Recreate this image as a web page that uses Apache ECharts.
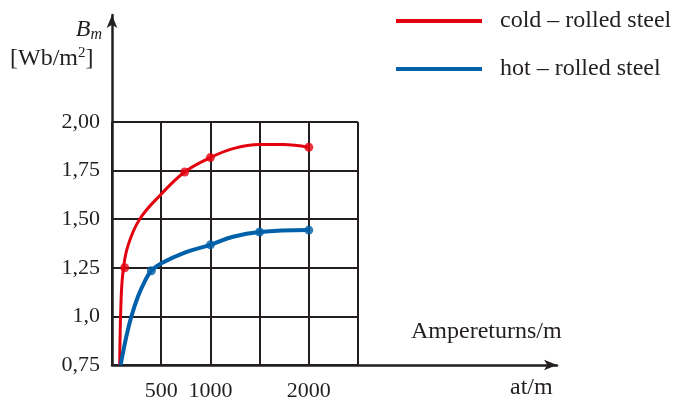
<!DOCTYPE html>
<html>
<head>
<meta charset="utf-8">
<script src="https://cdn.jsdelivr.net/npm/echarts@6/dist/echarts.min.js"></script>
<style>
html,body{margin:0;padding:0;background:#fff;}
#c{width:676px;height:405px;}
</style>
</head>
<body>
<div id="c"></div>
<script>
// ---- data ----
const seriesNames = ['cold – rolled steel', 'hot – rolled steel'];
// curve traced points (at/m, Wb/m2)
const coldCurveX = [78, 90, 110, 160, 281, 502, 739, 1000, 1230, 1501, 1738, 2000];
const coldCurveY = [0.75, 1.05, 1.22, 1.36, 1.5, 1.63, 1.743, 1.817, 1.863, 1.884, 1.884, 1.87];
const hotCurveX = [88, 146, 197, 264, 332, 400, 502, 739, 1000, 1230, 1500, 2000];
const hotCurveY = [0.75, 0.897, 1.0, 1.102, 1.179, 1.235, 1.273, 1.328, 1.368, 1.41, 1.434, 1.444];
// measured points (dots)
const coldDotX = [129, 739, 1000, 2000];
const coldDotY = [1.25, 1.743, 1.817, 1.87];
const hotDotX = [400, 1000, 1500, 2000];
const hotDotY = [1.235, 1.368, 1.434, 1.444];
// ticks
const yTickValues = [0.75, 1.0, 1.25, 1.5, 1.75, 2.0];
const yTickLabels = ['0,75', '1,0', '1,25', '1,50', '1,75', '2,00'];
const xTickValues = [500, 1000, 2000];
const xTickLabels = ['500', '1000', '2000'];

const RED = '#e3000f';
const BLUE = '#0060aa';
const INK = '#231f20';
const FONT = '"Liberation Serif", "DejaVu Serif", serif';

const zip = (xs, ys) => xs.map((x, i) => [x, ys[i]]);

const chart = echarts.init(document.getElementById('c'), null, {renderer: 'canvas'});

chart.setOption({
  animation: false,
  textStyle: {fontFamily: FONT},
  legend: {
    orient: 'vertical',
    left: 396,
    top: 7,
    padding: 0,
    itemWidth: 86,
    itemHeight: 4,
    itemGap: 20,
    icon: 'rect',
    textStyle: {fontFamily: FONT, fontSize: 24, color: INK, padding: [0, 0, 0, 13], lineHeight: 28},
    data: seriesNames
  },
  grid: [
    {left: 112, right: 318, top: 122, bottom: 40},
    {left: 112, right: 119, top: 15, bottom: 40}
  ],
  xAxis: [
    {
      gridIndex: 0, type: 'value', min: 0, max: 2500, interval: 500,
      axisLine: {show: false},
      axisTick: {show: false},
      splitLine: {show: true, lineStyle: {color: INK, width: 2}},
      axisLabel: {
        margin: 15, fontSize: 22, color: INK, fontFamily: FONT,
        formatter: v => { const i = xTickValues.indexOf(v); return i >= 0 ? xTickLabels[i] : ''; }
      }
    },
    {
      gridIndex: 1, type: 'value', min: 0, max: 1,
      axisLine: {show: true, symbol: ['none', 'arrow'], symbolSize: [8, 13], lineStyle: {color: INK, width: 2.5}},
      axisTick: {show: false}, axisLabel: {show: false}, splitLine: {show: false}
    }
  ],
  yAxis: [
    {
      gridIndex: 0, type: 'value', min: 0.75, max: 2.0, interval: 0.25,
      axisLine: {show: false},
      axisTick: {show: false},
      splitLine: {show: true, lineStyle: {color: INK, width: 2}},
      axisLabel: {
        margin: 12, fontSize: 22, color: INK, fontFamily: FONT,
        formatter: v => { const i = yTickValues.findIndex(t => Math.abs(t - v) < 1e-6); return i >= 0 ? yTickLabels[i] : ''; }
      }
    },
    {
      gridIndex: 1, type: 'value', min: 0, max: 1,
      axisLine: {show: true, symbol: ['none', 'arrow'], symbolSize: [8, 13], lineStyle: {color: INK, width: 2.5}},
      axisTick: {show: false}, axisLabel: {show: false}, splitLine: {show: false}
    }
  ],
  graphic: [
    {type: 'text', right: 676 - 102, top: 18, style: {
      text: '{b|B}{s|m}', rich: {
        b: {fontFamily: FONT, fontSize: 24, fontStyle: 'italic', fill: INK},
        s: {fontFamily: FONT, fontSize: 16, fontStyle: 'italic', fill: INK, padding: [10, 0, 0, 0]}
      }}},
    {type: 'text', left: 10, top: 46, style: {
      text: '{t|[Wb/m}{p|2}{t|]}', rich: {
        t: {fontFamily: FONT, fontSize: 24, fill: INK},
        p: {fontFamily: FONT, fontSize: 15, fill: INK, padding: [0, 0, 10, 0]}
      }}},
    {type: 'text', left: 411, top: 320, style: {text: 'Ampereturns/m', fontFamily: FONT, fontSize: 24, fill: INK}},
    {type: 'text', left: 510, top: 376, style: {text: 'at/m', fontFamily: FONT, fontSize: 24, fill: INK}}
  ],
  series: [
    {
      name: seriesNames[0], type: 'line', xAxisIndex: 0, yAxisIndex: 0,
      data: zip(coldCurveX, coldCurveY), smooth: 0.4,
      showSymbol: false, lineStyle: {color: RED, width: 3}, itemStyle: {color: RED}, z: 3
    },
    {
      name: seriesNames[1], type: 'line', xAxisIndex: 0, yAxisIndex: 0,
      data: zip(hotCurveX, hotCurveY), smooth: 0.4,
      showSymbol: false, lineStyle: {color: BLUE, width: 4}, itemStyle: {color: BLUE}, z: 3
    },
    {
      name: 'coldDots', type: 'scatter', xAxisIndex: 0, yAxisIndex: 0,
      data: zip(coldDotX, coldDotY), symbolSize: 9, itemStyle: {color: RED}, z: 4
    },
    {
      name: 'hotDots', type: 'scatter', xAxisIndex: 0, yAxisIndex: 0,
      data: zip(hotDotX, hotDotY), symbolSize: 9, itemStyle: {color: BLUE}, z: 4
    }
  ]
});
</script>
</body>
</html>
